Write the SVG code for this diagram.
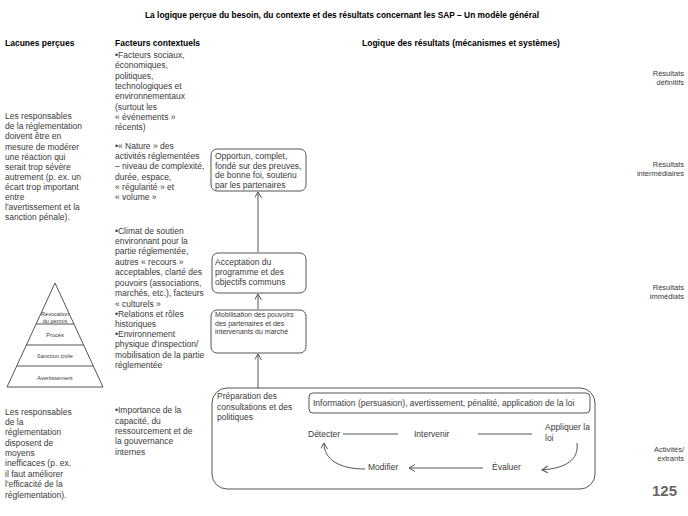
<svg xmlns="http://www.w3.org/2000/svg" width="688" height="516" viewBox="0 0 688 516">
<defs>
<style>
text{font-family:"Liberation Sans",Arial,sans-serif;fill:#3a3a3a;font-size:8.5px}
.b{font-weight:bold;fill:#000}
.t{font-size:8.4px}
.s{font-size:7px}
.xs{font-size:5.6px;text-anchor:middle}
.r{text-anchor:end;font-size:7.5px}
.box{fill:#fff;stroke:#555;stroke-width:1}
.ln{fill:none;stroke:#555;stroke-width:1}
.pg{font-size:15px;font-weight:bold;fill:#666;text-anchor:end}
</style>
<marker id="ah" markerWidth="8" markerHeight="8" refX="6" refY="3.5" orient="auto" markerUnits="userSpaceOnUse">
<path d="M0,0 L6,3.5 L0,7" fill="none" stroke="#555" stroke-width="1"/>
</marker>
</defs>
<rect width="688" height="516" fill="#fff"/>

<g id="title">
<text class="b t" x="342" y="18" text-anchor="middle">La logique perçue du besoin, du contexte et des résultats concernant les SAP – Un modèle général</text>
</g>

<g id="headers">
<text class="b" x="5" y="46">Lacunes perçues</text>
<text class="b" x="115" y="46">Facteurs contextuels</text>
<text class="b" x="362" y="46">Logique des résultats (mécanismes et systèmes)</text>
</g>

<g id="lacune1">
<text x="5" y="119">Les responsables</text>
<text x="5" y="129">de la réglementation</text>
<text x="5" y="139">doivent être en</text>
<text x="5" y="150">mesure de modérer</text>
<text x="5" y="160">une réaction qui</text>
<text x="5" y="170">serait trop sévère</text>
<text x="5" y="180">autrement (p. ex. un</text>
<text x="5" y="190">écart trop important</text>
<text x="5" y="200">entre</text>
<text x="5" y="210">l'avertissement et la</text>
<text x="5" y="220">sanction pénale).</text>
</g>

<g id="pyramide">
<path class="ln" d="M55,283 L103,387 L7,387 Z"/>
<line class="ln" x1="36" y1="324" x2="74" y2="324"/>
<line class="ln" x1="26" y1="345" x2="84" y2="345"/>
<line class="ln" x1="17" y1="366" x2="93" y2="366"/>
<text class="xs" x="55" y="316">Révocation</text>
<text class="xs" x="55" y="323">du permis</text>
<text class="xs" x="55" y="337">Procès</text>
<text class="xs" x="55" y="358">Sanction civile</text>
<text class="xs" x="55" y="380">Avertissement</text>
</g>

<g id="lacune2">
<text x="5" y="415">Les responsables</text>
<text x="5" y="425">de la</text>
<text x="5" y="435">réglementation</text>
<text x="5" y="446">disposent de</text>
<text x="5" y="456">moyens</text>
<text x="5" y="466">inefficaces (p. ex.</text>
<text x="5" y="477">il faut améliorer</text>
<text x="5" y="487">l'efficacité de la</text>
<text x="5" y="498">réglementation).</text>
</g>

<g id="facteurs1">
<text x="115" y="58">•Facteurs sociaux,</text>
<text x="115" y="68">économiques,</text>
<text x="115" y="79">politiques,</text>
<text x="115" y="89">technologiques et</text>
<text x="115" y="99">environnementaux</text>
<text x="115" y="110">(surtout les</text>
<text x="115" y="120">« événements  »</text>
<text x="115" y="130">récents)</text>
</g>

<g id="facteurs2">
<text x="115" y="149">•« Nature  » des</text>
<text x="115" y="159">activités réglementées</text>
<text x="115" y="169">– niveau de complexité,</text>
<text x="115" y="180">durée, espace,</text>
<text x="115" y="190">« régularité  » et</text>
<text x="115" y="200">« volume  »</text>
</g>

<g id="facteurs3">
<text x="115" y="234">•Climat de soutien</text>
<text x="115" y="244">environnant pour la</text>
<text x="115" y="254">partie réglementée,</text>
<text x="115" y="265">autres « recours  »</text>
<text x="115" y="275">acceptables, clarté des</text>
<text x="115" y="286">pouvoirs (associations,</text>
<text x="115" y="296">marchés, etc.), facteurs</text>
<text x="115" y="307">« culturels  »</text>
<text x="115" y="317">•Relations et rôles</text>
<text x="115" y="327">historiques</text>
<text x="115" y="337">•Environnement</text>
<text x="115" y="347">physique d'inspection/</text>
<text x="115" y="358">mobilisation de la partie</text>
<text x="115" y="368">réglementée</text>
</g>

<g id="facteurs4">
<text x="115" y="413">•Importance de la</text>
<text x="115" y="424">capacité, du</text>
<text x="115" y="434">ressourcement et de</text>
<text x="115" y="444">la gouvernance</text>
<text x="115" y="455">internes</text>
</g>

<g id="opportun">
<rect class="box" x="211" y="149" width="95" height="42" rx="6"/>
<text x="215" y="159">Opportun, complet,</text>
<text x="215" y="169">fondé sur des preuves,</text>
<text x="215" y="178">de bonne foi, soutenu</text>
<text x="215" y="188">par les partenaires</text>
</g>

<g id="acceptation">
<rect class="box" x="212" y="253" width="94" height="40" rx="6"/>
<text x="215" y="265">Acceptation du</text>
<text x="215" y="275">programme et des</text>
<text x="215" y="285">objectifs communs</text>
</g>

<g id="mobilisation">
<rect class="box" x="211" y="310" width="95" height="43" rx="6"/>
<text class="s" x="215" y="317">Mobilisation des pouvoirs</text>
<text class="s" x="215" y="326">des partenaires et des</text>
<text class="s" x="215" y="334">intervenants du marché</text>
</g>

<g id="preparation">
<rect class="box" x="212" y="388" width="383" height="101" rx="15"/>
<text x="217" y="399">Préparation des</text>
<text x="217" y="410">consultations et des</text>
<text x="217" y="420">politiques</text>
</g>

<g id="information">
<rect class="box" x="309" y="393" width="281" height="20" rx="4"/>
<text x="313" y="406">Information (persuasion), avertissement, pénalité, application de la loi</text>
</g>

<g id="detecter"><text x="308" y="437">Détecter</text></g>
<g id="intervenir"><text x="414" y="437">Intervenir</text></g>
<g id="appliquer">
<text x="545" y="430">Appliquer la</text>
<text x="545" y="441">loi</text>
</g>
<g id="evaluer"><text x="492" y="470">Évaluer</text></g>
<g id="modifier"><text x="368" y="470">Modifier</text></g>

<g id="niveaux">
<text class="r" x="684" y="76">Résultats</text>
<text class="r" x="684" y="85">définitifs</text>
<text class="r" x="684" y="167">Résultats</text>
<text class="r" x="684" y="176">intermédiaires</text>
<text class="r" x="684" y="290">Résultats</text>
<text class="r" x="684" y="299">immédiats</text>
<text class="r" x="684" y="452">Activités/</text>
<text class="r" x="684" y="461">extrants</text>
<text class="pg" x="677" y="496">125</text>
</g>

<g id="connectors">
<line class="ln" x1="258" y1="252" x2="258" y2="192" marker-end="url(#ah)"/>
<line class="ln" x1="258" y1="309" x2="258" y2="294" marker-end="url(#ah)"/>
<line class="ln" x1="258" y1="388" x2="258" y2="354" marker-end="url(#ah)"/>
<line class="ln" x1="343" y1="434" x2="398" y2="434"/>
<line class="ln" x1="478" y1="434" x2="532" y2="434"/>
<path class="ln" d="M577,443 C579,460 566,468 542,470" marker-end="url(#ah)"/>
<line class="ln" x1="483" y1="468" x2="409" y2="468" marker-end="url(#ah)"/>
<path class="ln" d="M365,469 C340,469 324,460 324,443" marker-end="url(#ah)"/>
</g>
</svg>
